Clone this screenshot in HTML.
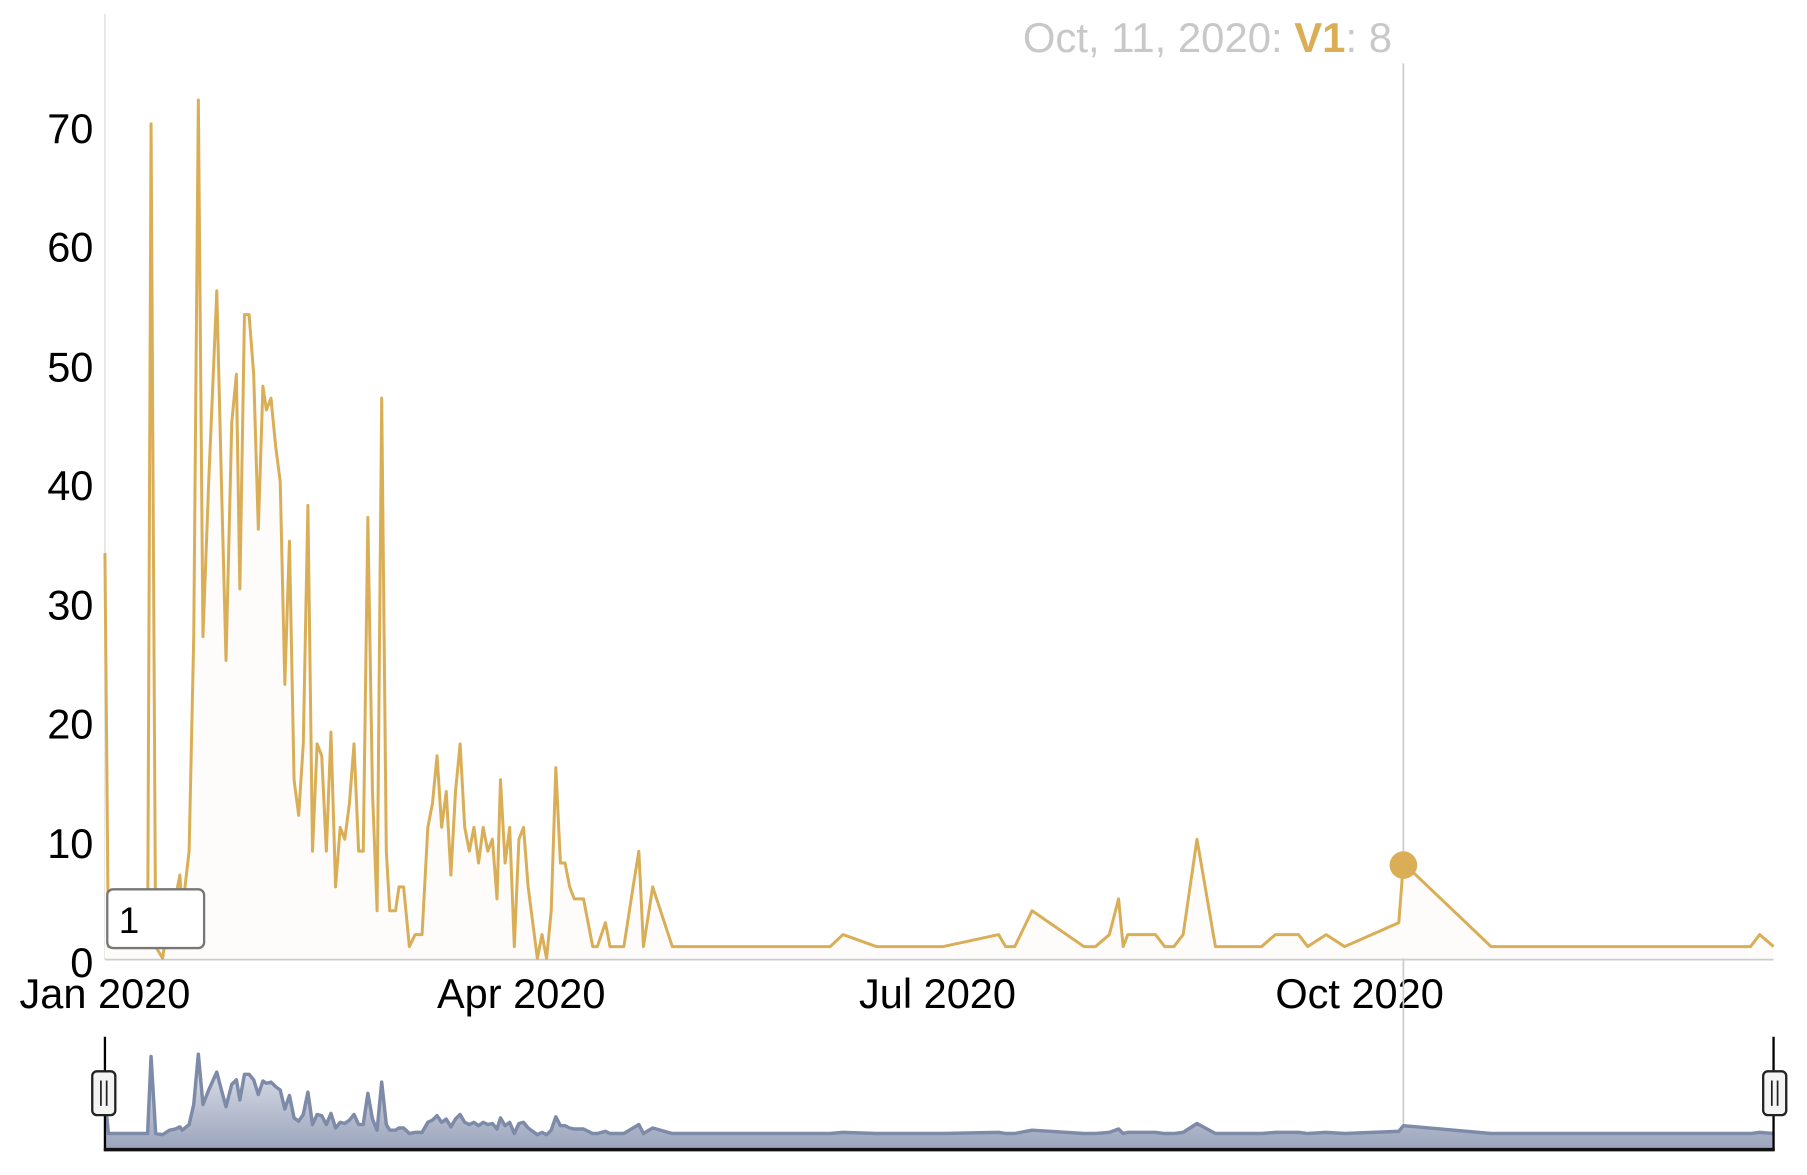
<!DOCTYPE html>
<html><head><meta charset="utf-8"><style>
html,body{margin:0;padding:0;background:#fff;}
svg{display:block;font-family:"Liberation Sans",Arial,sans-serif;}
</style></head><body>
<svg width="1807" height="1175" viewBox="0 0 1567 1020" preserveAspectRatio="none" xmlns="http://www.w3.org/2000/svg">
<defs>
<linearGradient id="ng" x1="0" y1="0" x2="0" y2="1">
<stop offset="0" stop-color="#e4e7ee"/><stop offset="1" stop-color="#9ba4bc"/>
</linearGradient>
</defs>
<line x1="91" y1="12" x2="91" y2="833" stroke="#ddd" stroke-width="1.2"/>
<line x1="91" y1="833" x2="1538" y2="833" stroke="#ccc" stroke-width="1.5"/>
<g font-size="36" fill="#000" text-anchor="end">
<text x="81" y="848">0</text><text x="81" y="745">10</text><text x="81" y="641">20</text>
<text x="81" y="538">30</text><text x="81" y="434">40</text><text x="81" y="331">50</text>
<text x="81" y="227">60</text><text x="81" y="124">70</text>
</g>
<g font-size="36" fill="#000" text-anchor="middle">
<text x="91" y="875">Jan 2020</text><text x="452" y="875">Apr 2020</text>
<text x="813" y="875">Jul 2020</text><text x="1179" y="875">Oct 2020</text>
</g>
<line x1="1217" y1="55" x2="1217" y2="985" stroke="#ccc" stroke-width="1.5"/>
<text x="887" y="45" font-size="36.3" fill="#c8c8c8">Oct, 11, 2020: <tspan fill="#d9ae57" font-weight="bold">V1</tspan>: 8</text>
<polygon fill="#fdfcfa" stroke="none" points="91,832 91,480.1 94,821.7 104,821.7 128,821.7 131,107.5 135,821.7 141,832 147,790.6 152,780.3 156,759.6 158,790.6 164,738.9 168,552.6 172,86.8 176,552.6 181,418 188,252.4 192,418 196,573.3 201,366.3 205,324.9 208,511.2 212,273.1 216,273.1 220,324.9 224,459.4 228,335.2 231,355.9 235,345.6 239,387 243,418 247,594 251,469.8 255,676.8 259,707.8 263,645.7 267,438.7 271,738.9 275,645.7 279,656.1 283,738.9 287,635.4 291,769.9 295,718.2 299,728.5 303,697.5 307,645.7 311,738.9 315,738.9 319,449.1 323,687.1 327,790.6 331,345.6 335,738.9 338,790.6 343,790.6 346,769.9 350,769.9 355,821.7 360,811.3 366,811.3 371,718.2 375,697.5 379,656.1 383,718.2 387,687.1 391,759.6 395,687.1 399,645.7 403,718.2 407,738.9 411,718.2 415,749.2 419,718.2 423,738.9 427,728.5 431,780.3 434,676.8 438,749.2 442,718.2 446,821.7 450,728.5 454,718.2 458,769.9 462,801 466,832 470,811.3 474,832 478,790.6 482,666.4 486,749.2 490,749.2 494,769.9 498,780.3 506,780.3 514,821.7 518,821.7 525,801 529,821.7 541,821.7 549,769.9 554,738.9 558,821.7 566,769.9 583,821.7 720,821.7 731,811.3 760,821.7 818,821.7 866,811.3 872,821.7 880,821.7 895,790.6 940,821.7 950,821.7 962,811.3 970,780.3 974,821.7 978,811.3 1002,811.3 1010,821.7 1018,821.7 1026,811.3 1038,728.5 1054,821.7 1094,821.7 1106,811.3 1126,811.3 1134,821.7 1150,811.3 1166,821.7 1213,801 1217,749.2 1293,821.7 1518,821.7 1526,811.3 1538,821.7 1538,832"/>
<polyline fill="none" stroke="#d9ae57" stroke-width="2.6" stroke-linejoin="round" points="91,480.1 94,821.7 104,821.7 128,821.7 131,107.5 135,821.7 141,832 147,790.6 152,780.3 156,759.6 158,790.6 164,738.9 168,552.6 172,86.8 176,552.6 181,418 188,252.4 192,418 196,573.3 201,366.3 205,324.9 208,511.2 212,273.1 216,273.1 220,324.9 224,459.4 228,335.2 231,355.9 235,345.6 239,387 243,418 247,594 251,469.8 255,676.8 259,707.8 263,645.7 267,438.7 271,738.9 275,645.7 279,656.1 283,738.9 287,635.4 291,769.9 295,718.2 299,728.5 303,697.5 307,645.7 311,738.9 315,738.9 319,449.1 323,687.1 327,790.6 331,345.6 335,738.9 338,790.6 343,790.6 346,769.9 350,769.9 355,821.7 360,811.3 366,811.3 371,718.2 375,697.5 379,656.1 383,718.2 387,687.1 391,759.6 395,687.1 399,645.7 403,718.2 407,738.9 411,718.2 415,749.2 419,718.2 423,738.9 427,728.5 431,780.3 434,676.8 438,749.2 442,718.2 446,821.7 450,728.5 454,718.2 458,769.9 462,801 466,832 470,811.3 474,832 478,790.6 482,666.4 486,749.2 490,749.2 494,769.9 498,780.3 506,780.3 514,821.7 518,821.7 525,801 529,821.7 541,821.7 549,769.9 554,738.9 558,821.7 566,769.9 583,821.7 720,821.7 731,811.3 760,821.7 818,821.7 866,811.3 872,821.7 880,821.7 895,790.6 940,821.7 950,821.7 962,811.3 970,780.3 974,821.7 978,811.3 1002,811.3 1010,821.7 1018,821.7 1026,811.3 1038,728.5 1054,821.7 1094,821.7 1106,811.3 1126,811.3 1134,821.7 1150,811.3 1166,821.7 1213,801 1217,749.2 1293,821.7 1518,821.7 1526,811.3 1538,821.7"/>
<circle cx="1217" cy="751" r="12" fill="#d9ae57"/>
<rect x="93" y="772" width="84" height="51" rx="5" fill="#fff" stroke="#777" stroke-width="2"/>
<text x="103" y="810" font-size="32" fill="#000">1</text>
<polygon fill="url(#ng)" points="91,998 91,952 94,984 104,984 128,984 131,917.1 135,984 141,985 147,981.1 152,980.1 156,978.2 158,981.1 164,976.2 168,958.8 172,915.1 176,958.8 181,946.2 188,930.7 192,946.2 196,960.7 201,941.3 205,937.4 208,954.9 212,932.6 216,932.6 220,937.4 224,950.1 228,938.4 231,940.4 235,939.4 239,943.3 243,946.2 247,962.7 251,951 255,970.4 259,973.3 263,967.5 267,948.1 271,976.2 275,967.5 279,968.5 283,976.2 287,966.5 291,979.2 295,974.3 299,975.3 303,972.4 307,967.5 311,976.2 315,976.2 319,949.1 323,971.4 327,981.1 331,939.4 335,976.2 338,981.1 343,981.1 346,979.2 350,979.2 355,984 360,983 366,983 371,974.3 375,972.4 379,968.5 383,974.3 387,971.4 391,978.2 395,971.4 399,967.5 403,974.3 407,976.2 411,974.3 415,977.2 419,974.3 423,976.2 427,975.3 431,980.1 434,970.4 438,977.2 442,974.3 446,984 450,975.3 454,974.3 458,979.2 462,982.1 466,985 470,983 474,985 478,981.1 482,969.5 486,977.2 490,977.2 494,979.2 498,980.1 506,980.1 514,984 518,984 525,982.1 529,984 541,984 549,979.2 554,976.2 558,984 566,979.2 583,984 720,984 731,983 760,984 818,984 866,983 872,984 880,984 895,981.1 940,984 950,984 962,983 970,980.1 974,984 978,983 1002,983 1010,984 1018,984 1026,983 1038,975.3 1054,984 1094,984 1106,983 1126,983 1134,984 1150,983 1166,984 1213,982.1 1217,977.2 1293,984 1518,984 1526,983 1538,984 1538,998"/>
<polyline fill="none" stroke="#7d8ba8" stroke-width="3" stroke-linejoin="round" points="91,952 94,984 104,984 128,984 131,917.1 135,984 141,985 147,981.1 152,980.1 156,978.2 158,981.1 164,976.2 168,958.8 172,915.1 176,958.8 181,946.2 188,930.7 192,946.2 196,960.7 201,941.3 205,937.4 208,954.9 212,932.6 216,932.6 220,937.4 224,950.1 228,938.4 231,940.4 235,939.4 239,943.3 243,946.2 247,962.7 251,951 255,970.4 259,973.3 263,967.5 267,948.1 271,976.2 275,967.5 279,968.5 283,976.2 287,966.5 291,979.2 295,974.3 299,975.3 303,972.4 307,967.5 311,976.2 315,976.2 319,949.1 323,971.4 327,981.1 331,939.4 335,976.2 338,981.1 343,981.1 346,979.2 350,979.2 355,984 360,983 366,983 371,974.3 375,972.4 379,968.5 383,974.3 387,971.4 391,978.2 395,971.4 399,967.5 403,974.3 407,976.2 411,974.3 415,977.2 419,974.3 423,976.2 427,975.3 431,980.1 434,970.4 438,977.2 442,974.3 446,984 450,975.3 454,974.3 458,979.2 462,982.1 466,985 470,983 474,985 478,981.1 482,969.5 486,977.2 490,977.2 494,979.2 498,980.1 506,980.1 514,984 518,984 525,982.1 529,984 541,984 549,979.2 554,976.2 558,984 566,979.2 583,984 720,984 731,983 760,984 818,984 866,983 872,984 880,984 895,981.1 940,984 950,984 962,983 970,980.1 974,984 978,983 1002,983 1010,984 1018,984 1026,983 1038,975.3 1054,984 1094,984 1106,983 1126,983 1134,984 1150,983 1166,984 1213,982.1 1217,977.2 1293,984 1518,984 1526,983 1538,984"/>
<line x1="91" y1="900" x2="91" y2="999" stroke="#000" stroke-width="2"/>
<line x1="1538" y1="900" x2="1538" y2="999" stroke="#000" stroke-width="2"/>
<line x1="90" y1="998" x2="1539" y2="998" stroke="#111" stroke-width="3"/>
<rect x="80" y="930" width="20" height="38" rx="4" fill="#f4f4f4" stroke="#222" stroke-width="2"/>
<line x1="87.5" y1="938" x2="87.5" y2="960" stroke="#222" stroke-width="1.5"/><line x1="92.5" y1="938" x2="92.5" y2="960" stroke="#222" stroke-width="1.5"/>
<rect x="1529" y="930" width="20" height="38" rx="4" fill="#f4f4f4" stroke="#222" stroke-width="2"/>
<line x1="1536.5" y1="938" x2="1536.5" y2="960" stroke="#222" stroke-width="1.5"/><line x1="1541.5" y1="938" x2="1541.5" y2="960" stroke="#222" stroke-width="1.5"/>
</svg>
</body></html>
